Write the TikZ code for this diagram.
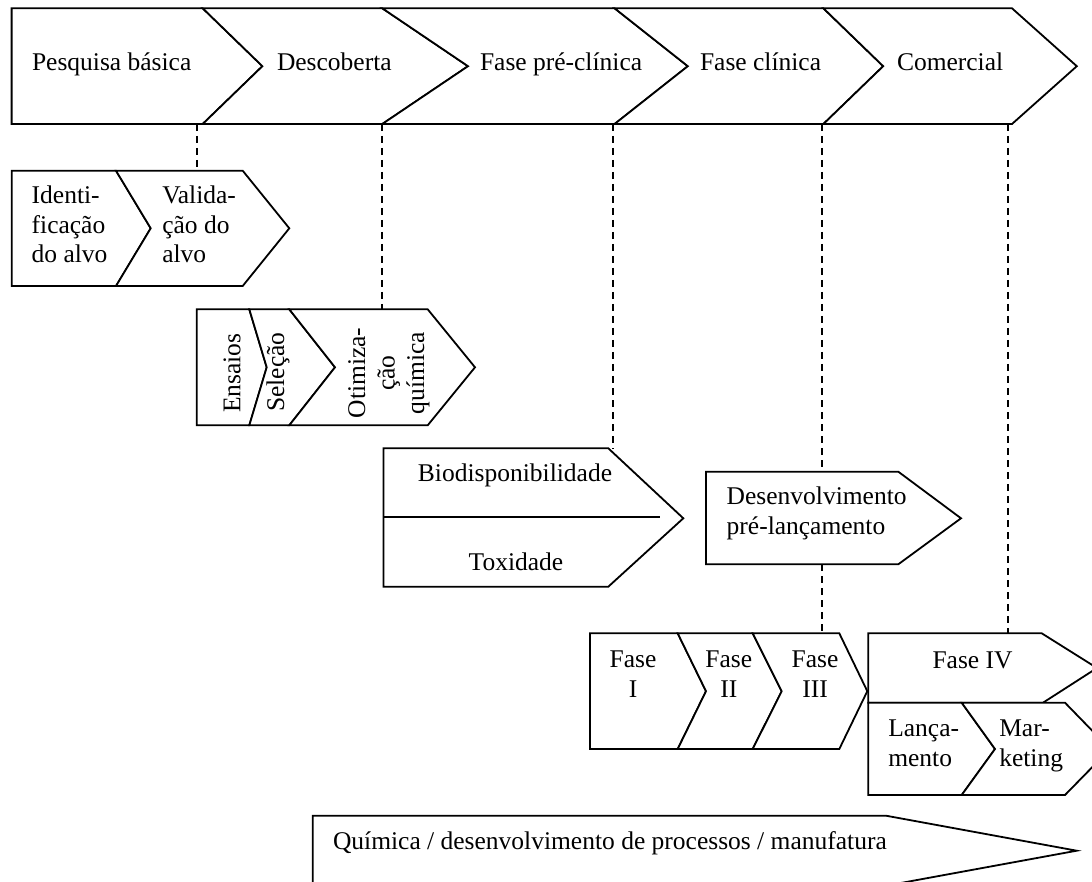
\documentclass[tikz,border=0pt]{standalone}
\usepackage{fontspec}
\setmainfont{Liberation Serif}
\begin{document}
\begin{tikzpicture}[x=1pt,y=-1pt,
  shp/.style={draw=black,line width=1.8pt,line join=miter,fill=white},
  dashln/.style={draw=black,line width=2pt,dash pattern=on 7pt off 5pt},
  txt/.style={inner sep=0pt,outer sep=0pt,font=\fontsize{25.5}{29.5}\selectfont},
  lt/.style={txt,anchor=base west,align=left},
  ct/.style={txt,anchor=base,align=center},
  rt/.style={txt,anchor=center,rotate=90,align=center}]
\useasboundingbox (0,0) rectangle (1092,882);
\begin{scope}
\clip (0,0) rectangle (1092,882);
% dashed guide coordinates
\coordinate (d1a) at (197,124);   \coordinate (d1b) at (197,170.7);
\coordinate (d2a) at (382.3,124); \coordinate (d2b) at (382.3,309.3);
\coordinate (d3a) at (613.3,124); \coordinate (d3b) at (613.3,448.3);
\coordinate (d4a) at (822.3,124); \coordinate (d4b) at (822.3,471.7);
\coordinate (d4c) at (822.3,564.3); \coordinate (d4d) at (822.3,633.3);
\coordinate (d5a) at (1008,124);  \coordinate (d5b) at (1008,633.3);
\draw[dashln] (d1a) -- (d1b);
\draw[dashln] (d2a) -- (d2b);
\draw[dashln] (d3a) -- (d3b);
\draw[dashln] (d4a) -- (d4b);
\draw[dashln] (d4c) -- (d4d);
\draw[dashln] (d5a) -- (d5b);
% top band
\path[shp] (11.6,8.3) -- (202.7,8.3) -- (262.4,66.2) -- (202.7,124) -- (11.6,124) -- cycle;
\path[shp] (202.7,8.3) -- (382.3,8.3) -- (468,66.2) -- (382.3,124) -- (202.7,124) -- (262.4,66.2) -- cycle;
\path[shp] (382.3,8.3) -- (614.6,8.3) -- (687.8,66.2) -- (614.6,124) -- (382.3,124) -- (468,66.2) -- cycle;
\path[shp] (614.6,8.3) -- (823.4,8.3) -- (883.2,66.2) -- (823.4,124) -- (614.6,124) -- (687.8,66.2) -- cycle;
\path[shp] (823.4,8.3) -- (1012,8.3) -- (1076.8,66.2) -- (1012,124) -- (823.4,124) -- (883.2,66.2) -- cycle;
\node[lt] (pb) at (32,71) {Pesquisa básica};
\node[lt] (desc) at (277,71) {Descoberta};
\node[lt] (fpc) at (480,71) {Fase pré-clínica};
\node[lt] (fc) at (700,71) {Fase clínica};
\node[lt] (com) at (897,71) {Comercial};
% target row
\path[shp] (11.7,170.7) -- (116,170.7) -- (150.7,228.3) -- (116,286) -- (11.7,286) -- cycle;
\path[shp] (116,170.7) -- (242.7,170.7) -- (289.3,228.3) -- (242.7,286) -- (116,286) -- (150.7,228.3) -- cycle;
\node[lt] (ida) at (31.7,263) {Identi-\\ficação\\do alvo};
\node[lt] (vda) at (162.3,263) {Valida-\\ção do\\alvo};
% discovery row
\path[shp] (196.7,309.3) -- (249.3,309.3) -- (266.7,367.3) -- (249.3,425.3) -- (196.7,425.3) -- cycle;
\path[shp] (249.3,309.3) -- (289.3,309.3) -- (335,367.3) -- (289.3,425.3) -- (249.3,425.3) -- (266.7,367.3) -- cycle;
\path[shp] (289.3,309.3) -- (427.7,309.3) -- (475,367.3) -- (427.7,425.3) -- (289.3,425.3) -- (335,367.3) -- cycle;
\node[rt] (ens) at (232,373) {Ensaios};
\node[rt] (sel) at (278,372) {Seleção};
\node[rt] (otq) at (389,373) {Otimiza-\\ção\\química};
% preclinical
\path[shp] (383.4,448.3) -- (608.3,448.3) -- (683.3,518.3) -- (608.3,586.7) -- (383.4,586.7) -- cycle;
\draw[line width=1.8pt] (383.4,517.3) -- (660,517.3);
\node[ct] (bio) at (515,481.7) {Biodisponibilidade};
\node[ct] (tox) at (516,570.7) {Toxidade};
\path[shp] (706,471.7) -- (898.3,471.7) -- (961,518.3) -- (898.3,564.3) -- (706,564.3) -- cycle;
\node[lt] (dpl) at (726.7,534.3) {Desenvolvimento\\pré-lançamento};
% clinical phases
\path[shp] (590,633.3) -- (677.7,633.3) -- (706,691.2) -- (677.7,749) -- (590,749) -- cycle;
\path[shp] (677.7,633.3) -- (752.7,633.3) -- (781.7,691.2) -- (752.7,749) -- (677.7,749) -- (706,691.2) -- cycle;
\path[shp] (752.7,633.3) -- (839.3,633.3) -- (867.3,691.2) -- (839.3,749) -- (752.7,749) -- (781.7,691.2) -- cycle;
\node[ct] (f1) at (633,697.3) {Fase\\I};
\node[ct] (f2) at (728.8,697.3) {Fase\\II};
\node[ct] (f3) at (815,697.3) {Fase\\III};
% commercial
\path[shp] (868.3,633.3) -- (1041.7,633.3) -- (1097,668) -- (1043,702.7) -- (868.3,702.7) -- cycle;
\path[shp] (868.3,702.7) -- (961.7,702.7) -- (995,749) -- (961.7,795) -- (868.3,795) -- cycle;
\path[shp] (961.7,702.7) -- (1065,702.7) -- (1110,749) -- (1065,795) -- (961.7,795) -- (995,749) -- cycle;
\node[ct] (f4) at (972.5,668) {Fase IV};
\node[lt] (lan) at (888.3,766) {Lança-\\mento};
\node[lt] (mkt) at (999.3,766) {Mar-\\keting};
% bottom band
\path[shp] (312.7,815.7) -- (886,815.7) -- (1076.7,850.7) -- (886,885.7) -- (312.7,885.7) -- cycle;
\node[lt] (qdp) at (333,849) {Química / desenvolvimento de processos / manufatura};
\end{scope}
\end{tikzpicture}
\end{document}
